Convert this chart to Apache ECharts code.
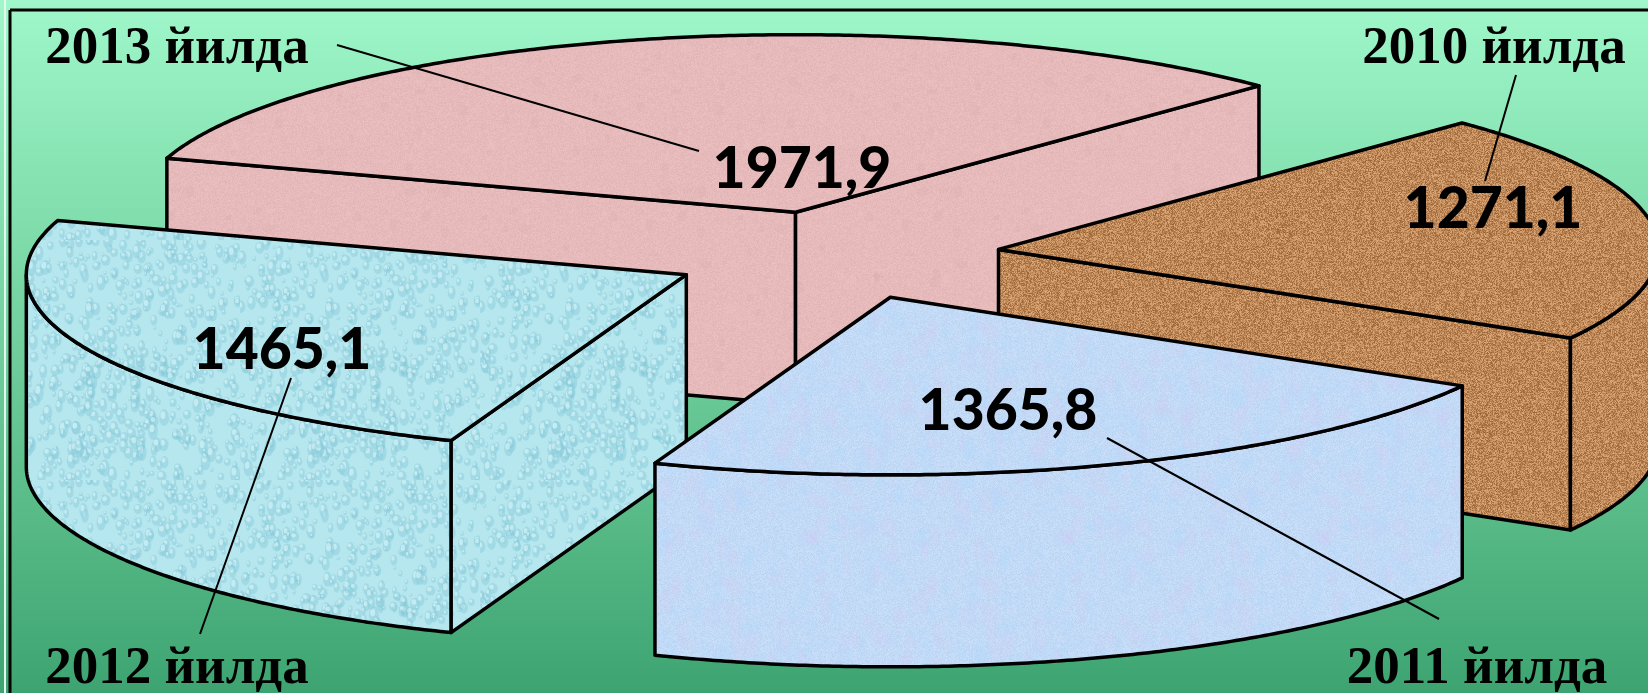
<!DOCTYPE html>
<html>
<head>
<meta charset="utf-8">
<style>
  html, body { margin: 0; padding: 0; }
  #chart { width: 1648px; height: 693px; }
</style>
</head>
<body>
<div id="chart"></div>
<script src="https://cdn.jsdelivr.net/npm/echarts@6/dist/echarts.min.js"></script>
<script>
// data, clockwise round the pie
const years = ['2010 йилда', '2011 йилда', '2012 йилда', '2013 йилда']
const values = [1271.1, 1365.8, 1465.1, 1971.9]
const valueLabels = ['1271,1', '1365,8', '1465,1', '1971,9']

// back slices are painted first
const drawOrder = [3, 0, 2, 1]

// pie projection
const pie = { cx: 835, cy: 255.4, rx: 660, ry: 177.6, depth: 192, explode: 0.25, startAngle: 45.4 }

// caption baseline, value baseline and leader line per slice
const yearPos = [[1494, 76], [1477, 696], [177, 696], [177, 76]]
const valuePos = [[1493, 238], [1008, 440], [282, 379], [802, 198]]
const leaders = [
  [1516, 75, 1485, 181],
  [1439, 619, 1107, 438],
  [200, 634, 291, 378],
  [337, 45, 699, 151],
]

// small repeatable noise, only for the fill textures
let seed = 12345
function rnd() {
  seed = (seed * 1664525 + 1013904223) % 4294967296
  return seed / 4294967296
}

function makeTile(size, paint) {
  const c = document.createElement('canvas')
  c.width = c.height = size
  paint(c.getContext('2d'), size)
  return c
}

function speckle(ctx, size, base, amount) {
  const img = ctx.createImageData(size, size)
  for (let i = 0; i < img.data.length; i += 4) {
    const n = (rnd() - 0.5) * amount
    img.data[i] = base[0] + n
    img.data[i + 1] = base[1] + n
    img.data[i + 2] = base[2] + n
    img.data[i + 3] = 255
  }
  ctx.putImageData(img, 0, 0)
}

const textures = [
  // brown sand
  makeTile(200, (ctx, s) => {
    speckle(ctx, s, [190, 135, 88], 70)
  }),
  // lavender paper
  makeTile(256, (ctx, s) => {
    speckle(ctx, s, [194, 218, 246], 14)
    for (let i = 0; i < 220; i++) {
      const pink = rnd() < 0.45
      ctx.fillStyle = pink ? 'rgba(222,196,238,0.14)' : 'rgba(175,218,252,0.16)'
      ctx.beginPath()
      ctx.ellipse(rnd() * s, rnd() * s, 3 + rnd() * 6, 4 + rnd() * 9, 0, 0, 7)
      ctx.fill()
    }
  }),
  // water drops
  makeTile(240, (ctx, s) => {
    ctx.fillStyle = '#b6e6ee'
    ctx.fillRect(0, 0, s, s)
    for (let i = 0; i < 700; i++) {
      const x = rnd() * s
      const y = rnd() * s
      const r = 1.5 + rnd() * 3.5
      const h = r * (1 + rnd() * 0.9)
      ctx.fillStyle = 'rgba(130,200,216,0.4)'
      ctx.beginPath()
      ctx.ellipse(x, y, r, h, 0, 0, 7)
      ctx.fill()
      ctx.fillStyle = 'rgba(222,246,250,0.6)'
      ctx.beginPath()
      ctx.ellipse(x - r * 0.25, y - h * 0.3, r * 0.5, h * 0.45, 0, 0, 7)
      ctx.fill()
    }
  }),
  // pink granite
  makeTile(256, (ctx, s) => {
    speckle(ctx, s, [230, 185, 186], 12)
    for (let i = 0; i < 90; i++) {
      ctx.fillStyle = rnd() < 0.5 ? 'rgba(240,202,202,0.22)' : 'rgba(216,168,170,0.2)'
      ctx.beginPath()
      ctx.ellipse(rnd() * s, rnd() * s, 2 + rnd() * 4, 2 + rnd() * 4, 0, 0, 7)
      ctx.fill()
    }
  }),
]

// start and end angle of each slice, degrees, going clockwise
const total = values.reduce((a, b) => a + b, 0)
const slices = []
let angle = pie.startAngle
values.forEach(v => {
  const sweep = (v / total) * 360
  slices.push({ a0: angle, a1: angle - sweep })
  angle -= sweep
})

const rad = d => (d * Math.PI) / 180

function renderSlice(params, api) {
  const i = api.value(0)
  const { a0, a1 } = slices[i]
  const mid = rad((a0 + a1) / 2)
  const ax = pie.cx + pie.rx * pie.explode * Math.cos(mid)
  const ay = pie.cy - pie.ry * pie.explode * Math.sin(mid)
  const at = d => [ax + pie.rx * Math.cos(rad(d)), ay - pie.ry * Math.sin(rad(d))]
  const down = p => [p[0], p[1] + pie.depth]
  const fill = { image: textures[i], repeat: 'repeat' }
  const faceStyle = { fill, stroke: '#000', lineWidth: 3.5, lineJoin: 'round' }
  const poly = points => ({ type: 'polygon', shape: { points }, style: faceStyle })
  const children = []

  // flat cut walls, only those turned to the viewer
  if (Math.cos(rad(a0)) < 0) {
    const c = at(a0)
    children.push(poly([[ax, ay], c, down(c), down([ax, ay])]))
  }
  if (Math.cos(rad(a1)) > 0) {
    const c = at(a1)
    children.push(poly([[ax, ay], c, down(c), down([ax, ay])]))
  }

  // outer rounded wall, lower half of the ellipse only
  const front = []
  for (let d = a0; d > a1; d -= 0.5) {
    if (Math.sin(rad(d)) < 0) front.push(d)
  }
  if (Math.sin(rad(a1)) < 0) front.push(a1)
  if (front.length) {
    const upper = front.map(at)
    children.push(poly(upper.concat(upper.slice().reverse().map(down))))
  }

  // top
  const top = [[ax, ay]]
  for (let d = a0; d > a1; d -= 0.5) top.push(at(d))
  top.push(at(a1))
  children.push(poly(top))

  // leader and texts
  const l = leaders[i]
  children.push({
    type: 'line',
    shape: { x1: l[0], y1: l[1], x2: l[2], y2: l[3] },
    style: { stroke: '#000', lineWidth: 2 },
  })
  children.push({
    type: 'text',
    style: {
      text: valueLabels[i],
      x: valuePos[i][0],
      y: valuePos[i][1],
      fill: '#000',
      font: '900 57px Lato',
      textAlign: 'center',
      textVerticalAlign: 'bottom',
    },
  })
  children.push({
    type: 'text',
    style: {
      text: years[i],
      x: yearPos[i][0],
      y: yearPos[i][1],
      fill: '#000',
      font: 'bold 53px "Liberation Serif"',
      textAlign: 'center',
      textVerticalAlign: 'bottom',
    },
  })
  return { type: 'group', children }
}

const chartInstance = echarts.init(document.getElementById('chart'))
chartInstance.setOption({
  animation: false,
  backgroundColor: {
    type: 'linear',
    x: 0, y: 0, x2: 0, y2: 1,
    colorStops: [
      { offset: 0, color: '#9ff7ca' },
      { offset: 0.5, color: '#70cf9c' },
      { offset: 1, color: '#3da471' },
    ],
  },
  graphic: [
    { type: 'line', shape: { x1: 5, y1: 0, x2: 5, y2: 693 }, style: { stroke: '#e4f6ee', lineWidth: 2 } },
    { type: 'line', shape: { x1: 10, y1: 10, x2: 10, y2: 693 }, style: { stroke: '#000', lineWidth: 3 } },
    { type: 'line', shape: { x1: 10, y1: 10, x2: 1648, y2: 10 }, style: { stroke: '#000', lineWidth: 3 } },
  ],
  series: [
    {
      type: 'custom',
      coordinateSystem: 'none',
      renderItem: renderSlice,
      data: drawOrder.map(i => [i]),
    },
  ],
})
</script>
</body>
</html>
